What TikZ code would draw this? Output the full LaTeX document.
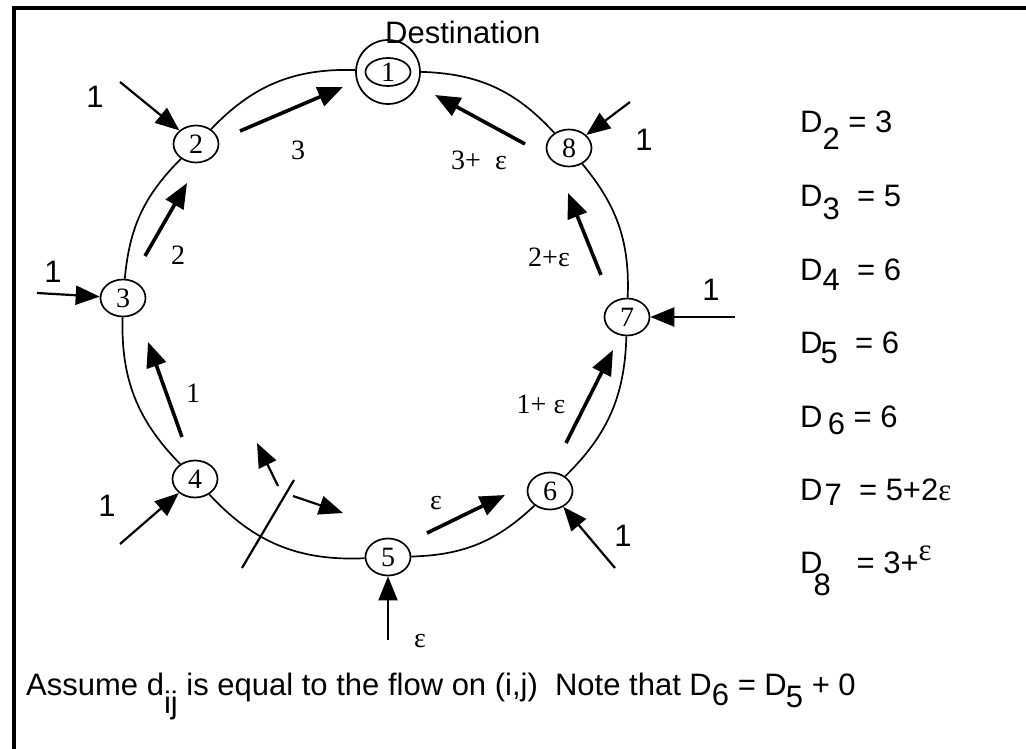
\documentclass[tikz,border=0pt]{standalone}
\usepackage{fontspec}
\setmainfont{Liberation Serif}
\setsansfont{Liberation Sans}
\usepackage{tikz}
\usetikzlibrary{shapes.geometric, arrows.meta, positioning}

\newcommand{\numfont}{\fontsize{28}{32}\selectfont\rmfamily}
\newcommand{\txtfont}{\fontsize{31}{36}\selectfont\sffamily}

\begin{document}
\begin{tikzpicture}[
        x=1pt, y=-1pt,
        station/.style={ellipse, draw, line width=1.7pt, fill=white, minimum width=45pt, minimum height=37pt, inner sep=0pt, font=\numfont},
        ring/.style={line width=1.7pt},
        flow/.style={line width=3.6pt, -{Triangle[length=25pt, width=20pt]}},
        feed/.style={line width=2.2pt, -{Triangle[length=24pt, width=19pt]}},
        elabel/.style={font=\numfont, inner sep=0pt},
        tlabel/.style={font=\txtfont, inner sep=0pt},
        dist/.style={font=\txtfont, inner sep=0pt, anchor=base west}
    ]
        \useasboundingbox (0,0) rectangle (1026,749);
        \draw[line width=4pt] (14,749) -- (14,8) -- (1026,8);

        % stations on the ring
        \node[station, minimum width=45pt, minimum height=28pt] (n1) at (388,72) {1};
        \node[circle, draw, line width=1.7pt, minimum size=64pt] (dest) at (n1) {};
        \node[station] (n2) at (196,144) {2};
        \node[station] (n3) at (123,298) {3};
        \node[station] (n4) at (195,479) {4};
        \node[station] (n5) at (388,557) {5};
        \node[station] (n6) at (550,491) {6};
        \node[station] (n7) at (627,317) {7};
        \node[station] (n8) at (569,148) {8};
        \node[tlabel, anchor=base west] (destlabel) at (385,44) {Destination};

        \draw[ring] (dest) to[bend right=24] (n2);
        \draw[ring] (n2) to[bend right=20] (n3);
        \draw[ring] (n3) to[bend right=23] (n4);
        \draw[ring] (n4) to[bend right=25] (n5);
        \draw[ring] (n5) to[bend right=21] (n6);
        \draw[ring] (n6) to[bend right=22] (n7);
        \draw[ring] (n7) to[bend right=21] (n8);
        \draw[ring] (n8) to[bend right=23] (dest);

        % flows along the ring
        \coordinate (f21a) at (240,131); \coordinate (f21b) at (343,87);
        \coordinate (f32a) at (145,256); \coordinate (f32b) at (187,183);
        \coordinate (f43a) at (182,437); \coordinate (f43b) at (148,342);
        \coordinate (f56a) at (427,533); \coordinate (f56b) at (505,495);
        \coordinate (f67a) at (566,443); \coordinate (f67b) at (613,350);
        \coordinate (f78a) at (601,275); \coordinate (f78b) at (568,193);
        \coordinate (f81a) at (525,144); \coordinate (f81b) at (435,95);
        \draw[flow] (f21a) -- (f21b);
        \draw[flow] (f32a) -- (f32b);
        \draw[flow] (f43a) -- (f43b);
        \draw[flow] (f56a) -- (f56b);
        \draw[flow] (f67a) -- (f67b);
        \draw[flow] (f78a) -- (f78b);
        \draw[flow] (f81a) -- (f81b);
        \node[elabel] (l21) at (298,150) {3};
        \node[elabel] (l32) at (178,255) {2};
        \node[elabel] (l43) at (193,393) {1};
        \node[elabel] (l56) at (436,503) {ε};
        \node[elabel] (l67) at (541,404) {1+ ε};
        \node[elabel] (l78) at (549,257) {2+ε};
        \node[elabel] (l81) at (479,160) {3+\ \ ε};

        % traffic entering each station
        \coordinate (in2) at (120,82);
        \coordinate (in3) at (37,293);
        \coordinate (in4) at (120,544);
        \coordinate (in5) at (388,640);
        \coordinate (in6) at (615,568);
        \coordinate (in7) at (735,317);
        \coordinate (in8) at (630,102);
        \draw[feed] (in2) -- (n2);
        \draw[feed] (in3) -- (n3);
        \draw[feed] (in4) -- (n4);
        \draw[feed] (in5) -- (n5);
        \draw[feed] (in6) -- (n6);
        \draw[feed] (in7) -- (n7);
        \draw[feed] (in8) -- (n8);
        \node[tlabel] (r2) at (95,97) {1};
        \node[tlabel] (r3) at (53,272) {1};
        \node[tlabel] (r4) at (107,506) {1};
        \node[elabel] (r5) at (420,641) {ε};
        \node[tlabel] (r6) at (623,536) {1};
        \node[tlabel] (r7) at (711,290) {1};
        \node[tlabel] (r8) at (644,140) {1};

        % cut between 4 and 5
        \coordinate (cuta) at (242,568); \coordinate (cutb) at (294,480);
        \draw[line width=2.2pt] (cuta) -- (cutb);
        \coordinate (up1) at (278,486); \coordinate (up2) at (257,443);
        \coordinate (dn1) at (293,496); \coordinate (dn2) at (343,513);
        \draw[feed] (up1) -- (up2);
        \draw[feed] (dn1) -- (dn2);

        % distances
        \node[dist] (d2) at (800,133) {D\raisebox{-17pt}{2} = 3};
        \node[dist] (d3) at (800,207) {D\raisebox{-13pt}{3}\ \ = 5};
        \node[dist] (d4) at (800,280) {D\raisebox{-10pt}{4}\ \ = 6};
        \node[dist] (d5) at (800,353) {D\kern-2pt\raisebox{-10pt}{5}\ \ = 6};
        \node[dist] (d6) at (800,427) {D\,\raisebox{-7pt}{6}\ = 6};
        \node[dist] (d7) at (800,500) {D\kern2pt\raisebox{-5pt}{7}\ \ = 5+2{\rmfamily ε}};
        \node[dist] (d8) at (800,573) {D\kern-9pt\raisebox{-22pt}{8}\ \ \ = 3+\raisebox{13pt}{\rmfamily ε}};

        \node[dist] (note) at (26,695) {Assume d\raisebox{-18pt}{ij} is equal to the flow on (i,j)\ \ Note that D\raisebox{-10pt}{6} = D\kern-1pt\raisebox{-12pt}{5} + 0};
    \end{tikzpicture}
\end{document}
